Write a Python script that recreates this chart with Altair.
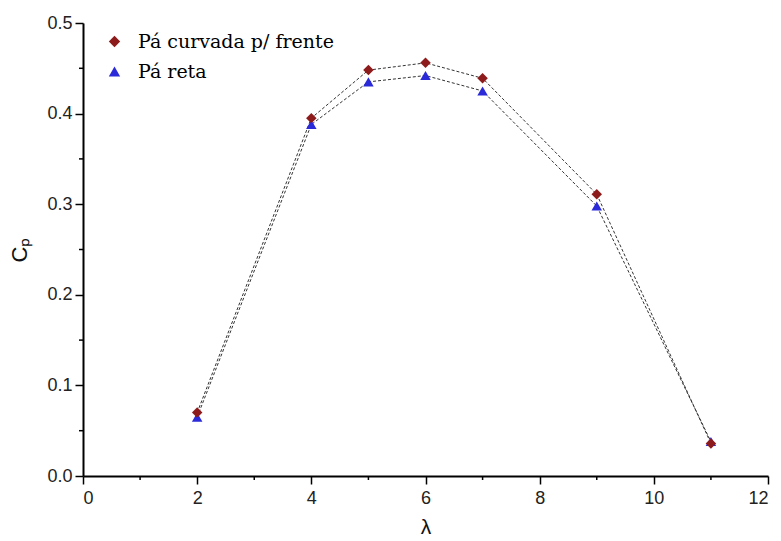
import altair as alt
import pandas as pd

lam = [2, 4, 5, 6, 7, 9, 11]
cp_curvada = [0.070, 0.395, 0.448, 0.456, 0.439, 0.311, 0.036]
cp_reta = [0.065, 0.388, 0.435, 0.442, 0.425, 0.298, 0.038]
series_names = ["Pá curvada p/ frente", "Pá reta"]
x_minor = [1, 3, 5, 7, 9, 11]
y_minor = [0.05, 0.15, 0.25, 0.35, 0.45]

rows = []
for x, v in zip(lam, cp_reta):
    rows.append({"lam": x, "cp": v, "serie": series_names[1], "ord": 0})
for x, v in zip(lam, cp_curvada):
    rows.append({"lam": x, "cp": v, "serie": series_names[0], "ord": 1})
df = pd.DataFrame(rows)

W, H = 685, 453
xs = alt.Scale(domain=[0, 12], nice=False)
ys = alt.Scale(domain=[0, 0.5], nice=False)
FONT = "Liberation Sans"

lines = alt.Chart(df).mark_line(
    color="#333333", strokeWidth=1, strokeDash=[3, 2]
).encode(
    x=alt.X("lam:Q", scale=xs),
    y=alt.Y("cp:Q", scale=ys),
    detail="serie:N",
)

points = alt.Chart(df).mark_point(filled=True, opacity=1, size=110).encode(
    x=alt.X("lam:Q", scale=xs, title="λ",
            axis=alt.Axis(values=list(range(0, 13, 2)), format="d", grid=False,
                          tickSize=8, labelPadding=5, titlePadding=9,
                          titleFontSize=21)),
    y=alt.Y("cp:Q", scale=ys, title="Cₚ",
            axis=alt.Axis(values=[0, 0.1, 0.2, 0.3, 0.4, 0.5], format=".1f", grid=False,
                          tickSize=8, labelPadding=3, titlePadding=15)),
    color=alt.Color("serie:N", scale=alt.Scale(domain=series_names, range=["#8e1b1b", "#2a2ad8"]),
                    legend=alt.Legend(title=None, orient="none", legendX=22, legendY=9,
                                      labelFont="DejaVu Serif",
                                      labelFontSize=19,
                                      labelColor="#000000", rowPadding=10, symbolSize=130,
                                      labelOffset=14, padding=0, labelLimit=0)),
    shape=alt.Shape("serie:N", scale=alt.Scale(domain=series_names, range=["diamond", "triangle-up"]),
                    legend=None),
    order=alt.Order("ord:Q"),
)

xminor_df = pd.DataFrame({"v": x_minor})
yminor_df = pd.DataFrame({"v": y_minor})
xminor = alt.Chart(xminor_df).mark_rule(color="black", strokeWidth=1.5).encode(
    x=alt.X("v:Q", scale=xs), y=alt.value(H), y2=alt.value(H + 4)
)
yminor = alt.Chart(yminor_df).mark_rule(color="black", strokeWidth=1.5).encode(
    y=alt.Y("v:Q", scale=ys), x=alt.value(0), x2=alt.value(-4)
)

chart = alt.layer(xminor, yminor, lines, points).properties(
    width=W, height=H,
    background="white",
    autosize=alt.AutoSizeParams(type="none"),
    padding={"left": 83, "top": 23, "right": 13, "bottom": 65},
).configure_view(stroke=None).configure_axis(
    domainColor="black", domainWidth=2, tickColor="black", tickWidth=1.5,
    labelFont=FONT, labelFontSize=18, labelColor="#222222",
    titleFont=FONT, titleFontSize=22, titleFontWeight="normal", titleColor="#111111",
)

chart.save("out.html", embed_options={"renderer": "svg", "actions": False})
